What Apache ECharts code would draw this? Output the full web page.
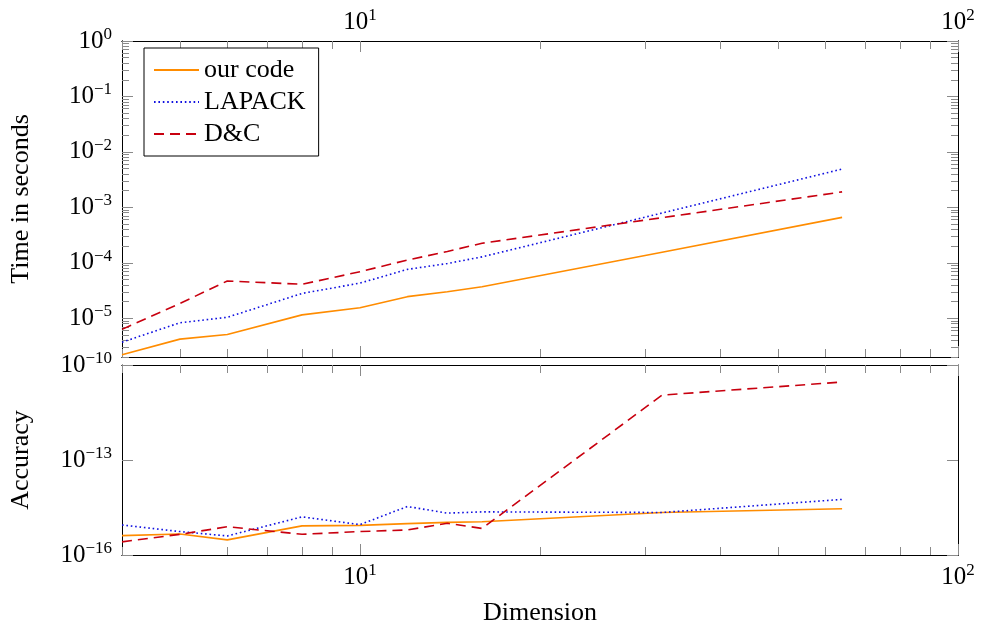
<!DOCTYPE html>
<html>
<head>
<meta charset="utf-8">
<script src="https://cdn.jsdelivr.net/npm/echarts@6/dist/echarts.min.js"></script>
<style>
html, body { margin: 0; padding: 0; background: #fff; }
#grafico { width: 982px; height: 631px; }
</style>
</head>
<body>
<div id="grafico"></div>
<script>
// Data
var dims = [4, 5, 6, 8, 10, 12, 14, 16, 32, 64];
var timeOurs   = [2.2e-6, 4.2e-6, 5.1e-6, 1.15e-5, 1.55e-5, 2.45e-5, 3.0e-5, 3.7e-5, 1.55e-4, 6.6e-4];
var timeLapack = [3.7e-6, 8.3e-6, 1.04e-5, 2.8e-5, 4.3e-5, 7.6e-5, 9.7e-5, 1.28e-4, 7.9e-4, 4.9e-3];
var timeDC     = [6.3e-6, 1.85e-5, 4.7e-5, 4.1e-5, 6.9e-5, 1.12e-4, 1.6e-4, 2.25e-4, 6.5e-4, 1.9e-3];
var accOurs    = [4.1e-16, 4.6e-16, 3.0e-16, 8.3e-16, 8.6e-16, 9.8e-16, 1.07e-15, 1.12e-15, 2.2e-15, 2.9e-15];
var accLapack  = [8.9e-16, 5.5e-16, 4.0e-16, 1.6e-15, 9.1e-16, 3.4e-15, 2.1e-15, 2.3e-15, 2.2e-15, 5.7e-15];
var accDC      = [2.6e-16, 4.5e-16, 7.8e-16, 4.5e-16, 5.5e-16, 6.2e-16, 1.0e-15, 6.9e-16, 1.12e-11, 2.9e-11];

// Tick labels
var xLabels = [10, 100];
var timeLabels = [1e-5, 1e-4, 1e-3, 1e-2, 1e-1, 1];
var accLabels = [1e-16, 1e-13, 1e-10];

var serif = 'Liberation Serif';

// minor ticks at 2..9 x 10^k inside [lo, hi]
function minorTicks(lo, hi) {
    var out = [];
    for (var k = -7; k <= 2; k++) {
        for (var m = 2; m <= 9; m++) {
            var v = m * Math.pow(10, k);
            if (v >= lo * 0.999 && v <= hi * 1.001) out.push(v);
        }
    }
    return out;
}

function powLabel(v) {
    var e = Math.round(Math.log10(v));
    return '{b|10}{e|' + String(e).replace('-', '\u2212') + '}';
}

var rich = {
    b: { fontFamily: serif, fontSize: 25, lineHeight: 30, color: '#000' },
    e: { fontFamily: serif, fontSize: 17, lineHeight: 14, verticalAlign: 'top', color: '#000' }
};

function axis(grid, pos, min, max, ticks, len, labels, margin) {
    return {
        type: 'log', logBase: 10, gridIndex: grid, position: pos, min: min, max: max,
        axisLine: { show: true, onZero: false, lineStyle: { color: '#000', width: 1 } },
        axisTick: { show: true, inside: true, length: len, customValues: ticks,
                    lineStyle: { color: '#8a8a8a', width: 1 } },
        axisLabel: labels ? { show: true, customValues: labels, formatter: powLabel,
                              margin: margin, rich: rich } : { show: false },
        splitLine: { show: false }
    };
}

var xMinor = minorTicks(4, 100);
var timeMinor = minorTicks(2e-6, 1);

var xAxes = [
    axis(0, 'bottom', 4, 100, xMinor, 8),
    axis(0, 'bottom', 4, 100, xLabels, 11),
    axis(0, 'top', 4, 100, xMinor, 8),
    axis(0, 'top', 4, 100, xLabels, 11, xLabels, 4),
    axis(1, 'bottom', 4, 100, xMinor, 8),
    axis(1, 'bottom', 4, 100, xLabels, 11, xLabels, 7),
    axis(1, 'top', 4, 100, xMinor, 8),
    axis(1, 'top', 4, 100, xLabels, 11)
];
xAxes[5].name = 'Dimension';
xAxes[5].nameLocation = 'middle';
xAxes[5].nameGap = 45;
xAxes[5].nameTextStyle = { fontFamily: serif, fontSize: 26, color: '#000' };

var yAxes = [
    axis(0, 'left', 2e-6, 1, timeMinor, 7),
    axis(0, 'left', 2e-6, 1, timeLabels, 11, timeLabels, 10),
    axis(0, 'right', 2e-6, 1, timeMinor, 7),
    axis(0, 'right', 2e-6, 1, timeLabels, 11),
    axis(1, 'left', 1e-16, 1e-10, accLabels, 11, accLabels, 10),
    axis(1, 'right', 1e-16, 1e-10, accLabels, 11)
];
yAxes[1].name = 'Time in seconds';
yAxes[4].name = 'Accuracy';
[1, 4].forEach(function (i) {
    yAxes[i].nameLocation = 'middle';
    yAxes[i].nameRotate = 90;
    yAxes[i].nameGap = 88;
    yAxes[i].nameTextStyle = { fontFamily: serif, fontSize: 26, color: '#000' };
});

function pairs(xs, ys) {
    return xs.map(function (x, i) { return [x, ys[i]]; });
}

var styles = {
    'our code': { color: '#ff8c00', width: 1.6, type: 'solid' },
    'LAPACK':   { color: '#1010e0', width: 1.6, type: [1.6, 2.8] },
    'D&C':      { color: '#c8000f', width: 1.6, type: [10, 6] }
};

function serie(name, panel, ys) {
    var s = styles[name];
    return {
        name: name, type: 'line',
        xAxisIndex: panel === 0 ? 0 : 4,
        yAxisIndex: panel === 0 ? 0 : 4,
        data: pairs(dims, ys),
        symbol: 'none',
        lineStyle: { color: s.color, width: s.width, type: s.type },
        itemStyle: { color: s.color },
        animation: false
    };
}

var chart = echarts.init(document.getElementById('grafico'));
var option = {
    animation: false,
    grid: [
        { left: 122, width: 836, top: 41, height: 316 },
        { left: 122, width: 836, top: 365, height: 190 }
    ],
    legend: {
        data: ['our code', 'LAPACK', 'D&C'],
        orient: 'vertical', left: 144, top: 48,
        padding: [9, 13, 9, 9], itemGap: 6, itemWidth: 45, itemHeight: 14,
        backgroundColor: '#fff', borderColor: '#000', borderWidth: 1, borderRadius: 0,
        itemStyle: { color: 'transparent', borderWidth: 0, opacity: 0 },
        textStyle: { fontFamily: serif, fontSize: 26, lineHeight: 26, color: '#000' },
        selectedMode: false
    },
    xAxis: xAxes,
    yAxis: yAxes,
    series: [
        serie('our code', 0, timeOurs),
        serie('LAPACK', 0, timeLapack),
        serie('D&C', 0, timeDC),
        serie('our code', 1, accOurs),
        serie('LAPACK', 1, accLapack),
        serie('D&C', 1, accDC)
    ]
};
chart.setOption(option);
</script>
</body>
</html>
